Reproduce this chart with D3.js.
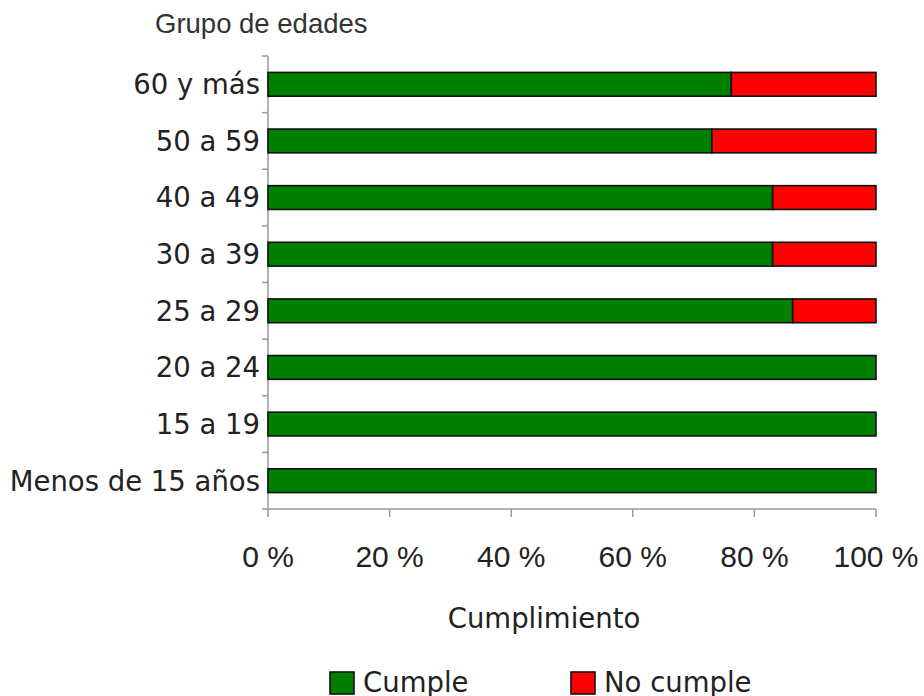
<!DOCTYPE html>
<html>
<head>
<meta charset="utf-8">
<script src="https://cdnjs.cloudflare.com/ajax/libs/d3/7.8.5/d3.min.js"></script>
<style>
  body { margin: 0; background: #fff; }
  svg { display: block; }
</style>
</head>
<body>
<svg id="chart" width="924" height="696"></svg>
<script>
// age groups, bottom to top as drawn
var groups = ["Menos de 15 años", "15 a 19", "20 a 24", "25 a 29", "30 a 39", "40 a 49", "50 a 59", "60 y más"];
var cumple = [100, 100, 100, 86.3, 83.0, 83.0, 73.0, 76.2];
var noCumple = [0, 0, 0, 13.7, 17.0, 17.0, 27.0, 23.8];
var xTicks = [0, 20, 40, 60, 80, 100];
var seriesNames = ["Cumple", "No cumple"];
var seriesColors = ["#008000", "#ff0000"];

var svg = d3.select("#chart");
var margin = {left: 268, right: 48, top: 56, bottom: 187};
var width = 924 - margin.left - margin.right,
    height = 696 - margin.top - margin.bottom;

var g = svg.append("g").attr("transform", "translate(" + margin.left + "," + margin.top + ")");

var x = d3.scaleLinear().domain([0, 100]).range([0, width]);
var y = d3.scaleBand().domain(groups.slice().reverse()).range([0, height]).paddingInner(0.58).paddingOuter(0.29);
var yb = d3.scaleBand().domain(groups.slice().reverse()).range([0, height]); // for tick marks

// build stacked rows
var rows = groups.map(function(gr, i) { return {group: gr, Cumple: cumple[i], "No cumple": noCumple[i]}; });
var stack = d3.stack().keys(seriesNames)(rows);

// axis lines
var axisColor = "#999";
g.append("line").attr("x1", 0).attr("x2", width).attr("y1", height).attr("y2", height)
  .attr("stroke", axisColor).attr("stroke-width", 1.5);
g.append("line").attr("x1", 0).attr("x2", 0).attr("y1", 0).attr("y2", height)
  .attr("stroke", axisColor).attr("stroke-width", 1.5);

// x ticks
g.selectAll(".xt").data(xTicks).enter().append("line")
  .attr("x1", function(d) { return x(d); }).attr("x2", function(d) { return x(d); })
  .attr("y1", height).attr("y2", height + 8)
  .attr("stroke", axisColor).attr("stroke-width", 1.5);
g.selectAll(".xl").data(xTicks).enter().append("text")
  .attr("x", function(d) { return x(d); })
  .attr("y", height + 58)
  .attr("text-anchor", "middle")
  .attr("font-family", "Liberation Sans, Arial, sans-serif")
  .attr("font-size", 30)
  .attr("fill", "#222")
  .text(function(d) { return d + " %"; });

// y ticks at band boundaries
var yEdges = yb.domain().map(function(d) { return yb(d); }).concat([height]);
g.selectAll(".yt").data(yEdges).enter().append("line")
  .attr("x1", -6).attr("x2", 0)
  .attr("y1", function(d) { return d; }).attr("y2", function(d) { return d; })
  .attr("stroke", axisColor).attr("stroke-width", 1.5);

g.selectAll(".yl").data(groups).enter().append("text")
  .attr("x", -8)
  .attr("y", function(d) { return y(d) + y.bandwidth() / 2; })
  .attr("dy", "0.36em")
  .attr("text-anchor", "end")
  .attr("font-family", "DejaVu Sans, Verdana, sans-serif")
  .attr("font-size", 27.5)
  .attr("fill", "#222")
  .text(function(d) { return d; });

// bars
g.selectAll(".series").data(stack).enter().append("g")
  .attr("fill", function(d, i) { return seriesColors[i]; })
  .selectAll("rect").data(function(d) { return d; }).enter().append("rect")
  .filter(function(d) { return d[1] > d[0]; })
  .attr("x", function(d) { return x(d[0]); })
  .attr("y", function(d) { return y(d.data.group); })
  .attr("width", function(d) { return x(d[1]) - x(d[0]); })
  .attr("height", y.bandwidth())
  .attr("stroke", "#111")
  .attr("stroke-width", 1.6);

// titles
svg.append("text").attr("x", 155).attr("y", 33)
  .attr("font-family", "Liberation Sans, Arial, sans-serif")
  .attr("font-size", 27.5).attr("fill", "#333")
  .text("Grupo de edades");

svg.append("text").attr("x", 544).attr("y", 628)
  .attr("text-anchor", "middle")
  .attr("font-family", "DejaVu Sans, Verdana, sans-serif")
  .attr("font-size", 27.5).attr("fill", "#222")
  .text("Cumplimiento");

// legend
var legX = [330, 571];
var leg = svg.selectAll(".leg").data(seriesNames).enter().append("g")
  .attr("transform", function(d, i) { return "translate(" + legX[i] + ",672)"; });
leg.append("rect").attr("width", 24).attr("height", 22)
  .attr("fill", function(d, i) { return seriesColors[i]; })
  .attr("stroke", "#111").attr("stroke-width", 1.6);
leg.append("text").attr("x", 33).attr("y", 20)
  .attr("font-family", "DejaVu Sans, Verdana, sans-serif")
  .attr("font-size", 27.5).attr("fill", "#222")
  .text(function(d) { return d; });
</script>
</body>
</html>
